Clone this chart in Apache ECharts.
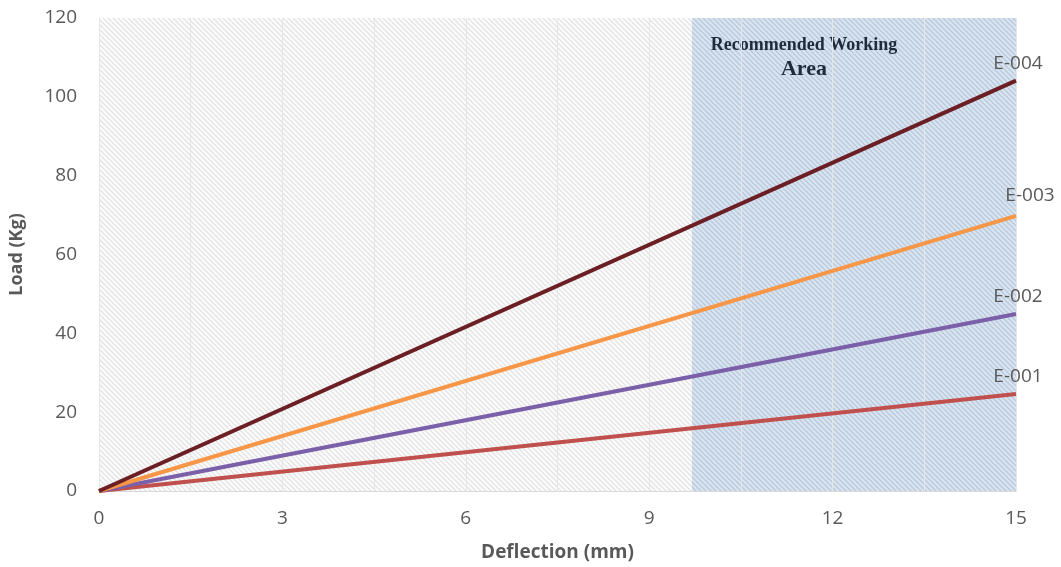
<!DOCTYPE html>
<html>
<head>
<meta charset="utf-8">
<script src="https://cdn.jsdelivr.net/npm/echarts@6/dist/echarts.min.js"></script>
<style>html,body{margin:0;padding:0;background:#fff}#c{width:1061px;height:567px}</style>
</head>
<body>
<div id="c"></div>
<script>
const deflection = [0, 15];
const seriesNames = ['E-001', 'E-002', 'E-003', 'E-004'];
const loadE001 = [0, 24.6];
const loadE002 = [0, 44.9];
const loadE003 = [0, 69.8];
const loadE004 = [0, 104.1];
const workingArea = [9.7, 15];
const xTicks = [0, 3, 6, 9, 12, 15];
const yTicks = [0, 20, 40, 60, 80, 100, 120];

function hatch(bg, stroke, size, lw) {
  const c = document.createElement('canvas');
  c.width = size; c.height = size;
  const g = c.getContext('2d');
  g.fillStyle = bg; g.fillRect(0, 0, size, size);
  g.strokeStyle = stroke; g.lineWidth = lw;
  g.beginPath();
  g.moveTo(-1, -1); g.lineTo(size + 1, size + 1);
  g.moveTo(-1, size - 1); g.lineTo(1, size + 1);
  g.moveTo(size - 1, -1); g.lineTo(size + 1, 1);
  g.stroke();
  return { image: c, repeat: 'repeat' };
}

const grayPattern = hatch('#fbfbfb', '#e0e0e0', 5, 1.2);
const bluePattern = hatch('rgba(170,195,225,0.42)', 'rgba(150,178,212,0.42)', 5, 1.2);

const colors = ['#c0504d', '#7b5fa8', '#f79646', '#6b1f24'];
const loads = [loadE001, loadE002, loadE003, loadE004];
const labelOffsets = [[2, 0], [2, 0], [14, -3], [2, 0]];

const series = seriesNames.map((n, i) => ({
  name: n,
  type: 'line',
  data: deflection.map((x, j) => ({
    value: [x, loads[i][j]],
    label: j === deflection.length - 1 ? {
      show: true, position: 'top', distance: 8, offset: labelOffsets[i],
      formatter: n, color: '#595959', fontSize: 19, fontFamily: 'Open Sans'
    } : { show: false }
  })),
  showSymbol: true,
  symbol: 'circle',
  symbolSize: 0,
  lineStyle: { color: colors[i], width: 4 },
  itemStyle: { color: colors[i] },
  z: 3,
  animation: false
}));

series.push({
  type: 'line', data: [], z: 1, silent: true,
  markArea: {
    silent: true,
    itemStyle: { color: grayPattern },
    data: [[{ xAxis: deflection[0], yAxis: yTicks[0] }, { xAxis: deflection[1], yAxis: yTicks[yTicks.length - 1] }]]
  }
});
series.push({
  type: 'line', data: [], z: 5, silent: true,
  markArea: {
    silent: true,
    itemStyle: { color: bluePattern },
    label: {
      show: true, position: 'insideTop', offset: [-50, 10],
      formatter: '{a|Recommended Working}\n{b|Area}',
      rich: {
        a: { fontFamily: 'Liberation Serif', fontWeight: 'bold', fontSize: 18, color: '#1e2b3c', lineHeight: 24 },
        b: { fontFamily: 'Liberation Serif', fontWeight: 'bold', fontSize: 22, color: '#1e2b3c', lineHeight: 24 }
      }
    },
    data: [[{ xAxis: workingArea[0], yAxis: yTicks[0] }, { xAxis: workingArea[1], yAxis: yTicks[yTicks.length - 1] }]]
  }
});

const chart = echarts.init(document.getElementById('c'), null, { renderer: 'canvas' });
chart.setOption({
  animation: false,
  backgroundColor: '#ffffff',
  grid: { left: 97, right: 45, top: 18, bottom: 73, containLabel: false },
  xAxis: {
    type: 'value', min: xTicks[0], max: xTicks[xTicks.length - 1], interval: 3,
    name: 'Deflection (mm)', nameLocation: 'middle', nameGap: 52,
    nameTextStyle: { color: '#595959', fontSize: 19, fontWeight: 'bold', fontFamily: 'Open Sans' },
    axisLine: { show: true, lineStyle: { color: '#d9d9d9', width: 1 } },
    axisTick: { show: false },
    axisLabel: { color: '#595959', fontSize: 19, margin: 18, fontFamily: 'Open Sans' },
    splitLine: { show: true, lineStyle: { color: '#e6e6e6', width: 1 } },
    minorTick: { show: false, splitNumber: 2 },
    minorSplitLine: { show: true, lineStyle: { color: '#e6e6e6', width: 1 } },
    z: 2
  },
  yAxis: {
    type: 'value', min: yTicks[0], max: yTicks[yTicks.length - 1], interval: 20,
    name: 'Load (Kg)', nameLocation: 'middle', nameGap: 73, nameRotate: 90,
    nameTextStyle: { color: '#595959', fontSize: 18, fontWeight: 'bold', fontFamily: 'Open Sans' },
    axisLine: { show: false },
    axisTick: { show: false },
    axisLabel: { color: '#595959', fontSize: 19, margin: 22, fontFamily: 'Open Sans' },
    splitLine: { show: true, lineStyle: { color: '#e6e6e6', width: 1 } }
  },
  series: series
});
</script>
</body>
</html>
